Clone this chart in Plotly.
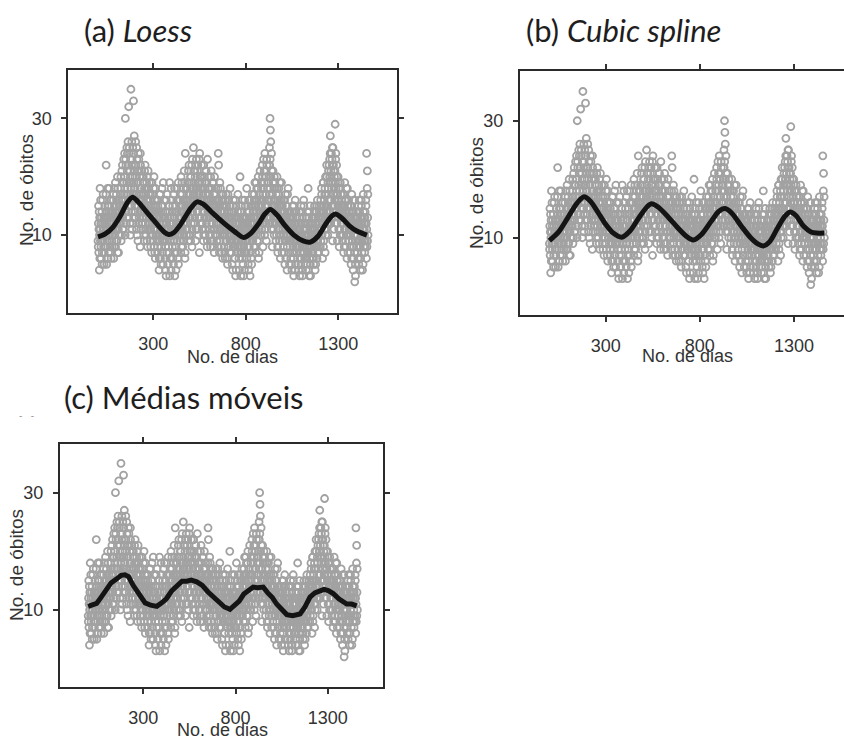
import plotly.graph_objects as go

# ---- data ----
# daily deaths, odd days (1, 3, 5, ..., 1461)
deaths_odd = [
    9, 12, 7, 14, 10, 6, 11, 16, 8, 13, 9, 5, 12, 10, 17, 8, 11, 7, 13, 10,
    12, 8, 22, 14, 9, 11, 18, 6, 13, 10, 15, 9, 12, 7, 14, 11, 16, 10, 8, 13,
    14, 10, 17, 12, 8, 15, 11, 19, 13, 9, 16, 12, 14, 7, 18, 11, 13, 15, 10, 12,
    15, 12, 20, 17, 10, 14, 22, 13, 16, 11, 19, 15, 24, 18, 30, 23, 12, 17, 25, 21,
    18, 26, 14, 32, 16, 24, 12, 20, 17, 35, 15, 22, 11, 19, 25, 16, 33, 13, 27, 21,
    20, 14, 26, 17, 11, 23, 15, 19, 9, 24, 16, 13, 21, 18, 8, 22, 14, 17, 12, 20,
    15, 11, 19, 13, 17, 9, 21, 14, 12, 18, 10, 16, 13, 20, 8, 15, 12, 17, 14, 19,
    13, 9, 17, 11, 15, 7, 19, 12, 10, 14, 18, 8, 13, 11, 16, 6, 12, 15, 10, 14,
    11, 7, 15, 9, 13, 4, 12, 17, 10, 6, 14, 8, 11, 18, 9, 13, 5, 12, 10, 16,
    10, 6, 14, 8, 3, 12, 9, 17, 11, 5, 13, 7, 10, 15, 3, 9, 12, 6, 18, 11,
    12, 8, 15, 10, 5, 13, 9, 18, 11, 7, 14, 4, 12, 16, 9, 11, 6, 19, 10, 13,
    13, 9, 17, 12, 7, 15, 11, 19, 14, 8, 16, 12, 10, 21, 13, 6, 24, 11, 18, 14,
    15, 11, 19, 14, 9, 17, 22, 13, 16, 10, 20, 15, 12, 18, 8, 23, 14, 17, 25, 21,
    16, 12, 21, 15, 9, 18, 23, 14, 17, 11, 22, 16, 13, 19, 7, 24, 15, 20, 12, 18,
    16, 11, 20, 14, 18, 9, 22, 15, 13, 19, 10, 17, 21, 12, 16, 8, 23, 14, 18, 15,
    14, 10, 18, 13, 8, 16, 21, 12, 15, 9, 19, 14, 11, 17, 7, 20, 13, 16, 10, 15,
    13, 9, 16, 11, 14, 24, 22, 12, 7, 15, 10, 18, 13, 8, 16, 11, 14, 6, 17, 12,
    12, 8, 15, 10, 6, 13, 17, 9, 11, 14, 5, 12, 16, 8, 10, 13, 7, 18, 11, 9,
    11, 7, 14, 9, 4, 12, 16, 8, 10, 13, 6, 11, 3, 15, 9, 12, 7, 10, 17, 8,
    10, 6, 13, 8, 20, 11, 3, 14, 9, 7, 12, 16, 5, 10, 8, 13, 4, 11, 15, 9,
    11, 7, 18, 14, 9, 12, 5, 16, 10, 8, 13, 3, 11, 15, 6, 12, 9, 17, 10, 14,
    12, 8, 16, 11, 19, 13, 7, 15, 10, 18, 14, 9, 12, 20, 6, 16, 11, 14, 21, 13,
    15, 10, 19, 13, 22, 16, 8, 18, 12, 21, 14, 24, 11, 17, 20, 9, 23, 15, 18, 13,
    16, 12, 20, 17, 22, 30, 28, 26, 11, 24, 17, 8, 15, 21, 13, 18, 10, 16, 19, 12,
    13, 9, 17, 12, 20, 15, 7, 14, 11, 18, 10, 16, 13, 6, 15, 12, 19, 9, 14, 11,
    12, 8, 16, 10, 14, 5, 13, 17, 9, 11, 15, 4, 12, 10, 18, 7, 13, 11, 9, 14,
    10, 6, 13, 9, 4, 12, 15, 8, 11, 3, 14, 7, 10, 16, 5, 9, 12, 8, 13, 10,
    9, 5, 12, 8, 14, 3, 11, 7, 10, 15, 6, 9, 13, 4, 8, 11, 16, 7, 10, 12,
    9, 6, 12, 4, 11, 8, 14, 10, 18, 7, 13, 3, 9, 15, 5, 10, 12, 8, 11, 6,
    10, 7, 13, 5, 9, 15, 11, 4, 12, 8, 14, 10, 6, 16, 9, 13, 7, 11, 15, 12,
    12, 8, 16, 11, 18, 10, 14, 6, 13, 19, 9, 15, 12, 17, 7, 20, 11, 14, 22, 13,
    14, 10, 18, 21, 13, 16, 23, 20, 27, 12, 19, 24, 15, 22, 9, 25, 17, 21, 11, 20,
    15, 29, 19, 24, 12, 22, 17, 9, 16, 20, 13, 18, 8, 15, 11, 19, 14, 17, 10, 16,
    13, 9, 17, 12, 7, 15, 11, 19, 14, 8, 16, 10, 13, 6, 18, 12, 15, 9, 14, 11,
    11, 7, 15, 10, 5, 13, 17, 9, 12, 6, 14, 8, 11, 16, 2, 10, 3, 13, 9, 12,
    10, 7, 14, 9, 12, 5, 16, 11, 8, 13, 6, 10, 15, 9, 12, 4, 11, 17, 8, 13,
    11, 7, 14, 9, 16, 12, 24, 8, 21, 13, 10,
]
# daily deaths, even days (2, 4, ..., 1460)
deaths_even = [
    8, 15, 11, 4, 13, 18, 9, 12, 6, 10, 14, 7, 16, 11, 9, 13, 5, 12, 15, 10,
    10, 17, 13, 5, 12, 9, 15, 11, 7, 14, 18, 10, 8, 13, 16, 6, 12, 9, 14, 11,
    11, 16, 6, 13, 18, 10, 14, 8, 12, 17, 15, 9, 20, 11, 13, 7, 16, 12, 10, 14,
    13, 18, 9, 16, 21, 14, 11, 19, 15, 23, 12, 17, 20, 10, 16, 22, 14, 19, 13, 24,
    17, 22, 13, 19, 25, 15, 21, 10, 18, 23, 14, 26, 16, 20, 12, 24, 17, 19, 22, 15,
    18, 13, 22, 16, 25, 10, 19, 21, 15, 12, 23, 17, 20, 14, 24, 11, 18, 16, 21, 13,
    16, 12, 20, 14, 10, 18, 15, 22, 11, 17, 13, 19, 9, 16, 14, 21, 12, 18, 15, 11,
    12, 16, 8, 14, 19, 10, 13, 17, 9, 15, 11, 20, 12, 7, 14, 18, 10, 13, 16, 11,
    12, 8, 16, 10, 14, 6, 13, 9, 17, 11, 5, 15, 10, 12, 7, 14, 19, 9, 13, 11,
    9, 13, 4, 11, 16, 7, 12, 10, 14, 5, 8, 15, 11, 19, 6, 13, 10, 4, 12, 16,
    11, 14, 6, 12, 17, 9, 13, 3, 10, 15, 8, 12, 18, 7, 14, 10, 16, 5, 11, 13,
    12, 16, 10, 14, 20, 8, 13, 17, 11, 15, 9, 18, 14, 12, 19, 7, 15, 13, 16, 10,
    14, 18, 12, 16, 21, 10, 15, 19, 13, 17, 9, 20, 16, 22, 11, 14, 18, 12, 19, 16,
    17, 13, 20, 15, 22, 11, 18, 16, 21, 14, 19, 10, 17, 23, 15, 20, 13, 18, 16, 22,
    15, 19, 12, 17, 22, 10, 16, 20, 14, 18, 11, 21, 15, 13, 19, 9, 17, 14, 20, 16,
    13, 17, 11, 15, 20, 9, 14, 18, 12, 16, 8, 19, 13, 15, 11, 17, 14, 10, 18, 12,
    12, 15, 10, 14, 18, 8, 13, 16, 11, 19, 9, 14, 12, 17, 7, 15, 13, 10, 16, 11,
    11, 14, 7, 13, 16, 9, 12, 15, 10, 6, 13, 17, 11, 8, 14, 12, 9, 15, 10, 13,
    10, 13, 5, 12, 15, 8, 11, 14, 9, 6, 12, 16, 10, 4, 13, 11, 8, 14, 9, 12,
    9, 12, 4, 11, 14, 7, 10, 15, 8, 13, 6, 11, 9, 3, 12, 10, 16, 7, 13, 11,
    10, 13, 6, 12, 15, 8, 11, 4, 14, 9, 16, 12, 7, 10, 13, 5, 11, 15, 9, 12,
    13, 10, 17, 12, 15, 8, 14, 19, 11, 16, 9, 13, 18, 12, 15, 7, 17, 14, 10, 16,
    14, 18, 11, 16, 20, 12, 17, 23, 13, 19, 10, 15, 21, 14, 17, 12, 22, 16, 19, 14,
    15, 19, 22, 25, 18, 23, 13, 20, 16, 21, 12, 17, 14, 19, 11, 16, 20, 13, 15, 18,
    12, 16, 10, 14, 18, 8, 13, 17, 11, 15, 9, 19, 12, 14, 10, 16, 13, 7, 15, 12,
    11, 14, 7, 13, 16, 9, 12, 6, 15, 10, 13, 8, 17, 11, 14, 9, 12, 5, 10, 13,
    9, 12, 5, 11, 14, 7, 10, 13, 6, 15, 9, 11, 4, 12, 8, 14, 10, 7, 11, 9,
    8, 11, 4, 10, 13, 6, 9, 12, 5, 14, 8, 10, 3, 12, 7, 9, 15, 11, 6, 10,
    8, 11, 5, 10, 13, 7, 9, 12, 4, 10, 14, 6, 11, 8, 3, 12, 9, 7, 13, 10,
    9, 12, 6, 11, 14, 8, 10, 13, 5, 12, 9, 15, 11, 7, 13, 10, 8, 14, 12, 11,
    11, 14, 9, 13, 17, 10, 15, 12, 19, 8, 14, 16, 11, 18, 13, 10, 17, 15, 20, 12,
    15, 19, 12, 17, 22, 14, 20, 24, 16, 21, 13, 18, 23, 25, 19, 15, 22, 14, 18, 16,
    21, 16, 23, 18, 14, 20, 12, 17, 15, 19, 11, 16, 14, 18, 10, 13, 17, 12, 15, 14,
    12, 15, 10, 14, 17, 8, 13, 16, 11, 9, 14, 18, 12, 10, 15, 7, 13, 16, 11, 12,
    10, 13, 8, 12, 15, 6, 11, 14, 9, 4, 12, 16, 10, 7, 13, 5, 11, 14, 8, 10,
    10, 13, 6, 12, 15, 8, 11, 14, 9, 4, 12, 16, 10, 7, 13, 11, 5, 14, 9, 12,
    10, 13, 8, 12, 15, 6, 11, 18, 9, 17,
]
days_odd = list(range(1, 2 * len(deaths_odd), 2))
days_even = list(range(2, 2 * len(deaths_even) + 1, 2))
days = days_odd + days_even
deaths = deaths_odd + deaths_even

loess_days = [1, 40, 80, 120, 160, 188, 215, 250, 290, 330, 360, 383, 410, 440, 470, 500,
              536, 570, 620, 680, 740, 788, 830, 870, 900, 932, 970, 1010, 1060, 1110,
              1149, 1190, 1230, 1260, 1284, 1320, 1360, 1400, 1455]
loess_vals = [9.7, 10.2, 11.3, 13.2, 15.6, 16.5, 15.8, 14.5, 13.0, 11.5, 10.5, 10.1, 10.4,
              11.5, 13.0, 14.5, 15.7, 15.3, 13.8, 12.1, 10.6, 9.6, 10.4, 12.0, 13.5, 14.4,
              13.4, 11.7, 10.0, 9.0, 8.8, 9.8, 11.8, 13.1, 13.6, 12.9, 11.6, 10.7, 10.0]

spline_days = [1, 50, 100, 150, 185, 220, 260, 300, 340, 385, 430, 480, 520, 544, 580, 630,
               680, 730, 765, 810, 860, 900, 934, 970, 1020, 1070, 1110, 1137, 1170, 1210,
               1250, 1279, 1310, 1350, 1390, 1420, 1461]
spline_vals = [9.5, 11.0, 13.5, 16.0, 17.0, 16.2, 14.3, 12.3, 10.8, 10.1, 11.2, 13.6, 15.3,
               15.8, 15.2, 13.6, 11.8, 10.2, 9.6, 10.6, 12.8, 14.5, 15.0, 14.2, 12.0, 10.0,
               8.9, 8.6, 9.3, 11.5, 13.6, 14.4, 13.8, 12.0, 11.0, 10.8, 10.8]

ma_days = [1, 25, 47, 70, 95, 125, 156, 180, 201, 220, 245, 265, 282, 310, 340, 373, 400,
           425, 455, 481, 510, 535, 560, 590, 620, 650, 680, 710, 740, 770, 795, 820, 845,
           869, 896, 920, 950, 975, 1000, 1023, 1050, 1078, 1110, 1150, 1175, 1204, 1230,
           1258, 1280, 1303, 1330, 1360, 1385, 1403, 1430, 1457]
ma_vals = [10.6, 10.9, 11.1, 12.1, 13.1, 14.6, 15.3, 15.9, 16.0, 15.7, 14.2, 13.3, 12.3,
           11.2, 10.8, 10.6, 11.2, 11.9, 13.3, 14.2, 14.9, 14.9, 15.1, 14.8, 14.2, 13.1,
           12.3, 11.5, 10.5, 10.1, 10.7, 11.5, 12.7, 13.3, 13.9, 13.8, 13.9, 12.9, 12.1,
           11.0, 10.1, 9.2, 9.0, 9.3, 10.4, 12.2, 12.9, 13.2, 13.5, 13.3, 12.8, 11.9, 11.5,
           11.0, 11.0, 10.7]

x_ticks = [300, 800, 1300]
y_ticks = [10, 30]
titles = ["(a) <i>Loess</i>", "(b) <i>Cubic spline</i>", "(c) Médias móveis"]
x_title = "No. de dias"
y_title = "No. de óbitos"

# ---- layout geometry (pixels) ----
W, H = 844, 742
panels = [
    dict(l=68.3, r=396.7, t=70, b=313.3, xr=[-159.5, 1615.7], yr=[-3.4, 38.3],
         curve=(loess_days, loess_vals, "spline"), ymirror="allticks",
         title_xy=(82, 30), xt_xy=(232, 357), yt_xy=(26, 190)),
    dict(l=520, r=844, t=71, b=315, xr=[-155, 1565.5], yr=[-3.2, 38.5],
         curve=(spline_days, spline_vals, "spline"), ymirror=False,
         title_xy=(524, 30), xt_xy=(687, 356), yt_xy=(477, 193)),
    dict(l=60, r=383.3, t=444, b=687.3, xr=[-151.7, 1601.5], yr=[-3.2, 38.3],
         curve=(ma_days, ma_vals, "linear"), ymirror="allticks",
         title_xy=(62, 397), xt_xy=(222, 730), yt_xy=(16, 565)),
]

fig = go.Figure()
layout = dict(width=W, height=H, margin=dict(l=0, r=0, t=0, b=0),
              paper_bgcolor="white", plot_bgcolor="white", showlegend=False)
annotations = []
tick_font = dict(family="Liberation Sans, Arial, sans-serif", size=18, color="#333333")

for i, p in enumerate(panels):
    n = "" if i == 0 else str(i + 1)
    fig.add_trace(go.Scatter(
        x=days, y=deaths, mode="markers", xaxis="x" + n, yaxis="y" + n,
        marker=dict(symbol="circle-open", size=7, color="#a2a2a2",
                    line=dict(width=1.8, color="#a2a2a2")),
        hoverinfo="skip"))
    cd, cv, shape = p["curve"]
    fig.add_trace(go.Scatter(
        x=cd, y=cv, mode="lines", xaxis="x" + n, yaxis="y" + n,
        line=dict(color="#141414", width=5, shape=shape, smoothing=0.8 if shape == "spline" else None),
        hoverinfo="skip"))
    layout["xaxis" + n] = dict(
        domain=[p["l"] / W, min(p["r"] / W, 1.0)], range=p["xr"], anchor="y" + n,
        tickvals=x_ticks, ticks="outside", ticklen=5, tickwidth=1.5, tickcolor="#333",
        showline=True, linecolor="#2a2a2a", linewidth=2, mirror="allticks",
        showgrid=False, zeroline=False, tickfont=tick_font, ticklabelstandoff=8)
    layout["yaxis" + n] = dict(
        domain=[1 - p["b"] / H, 1 - p["t"] / H], range=p["yr"], anchor="x" + n,
        tickvals=y_ticks, ticks="outside", ticklen=5, tickwidth=1.5, tickcolor="#333",
        showline=True, linecolor="#2a2a2a", linewidth=2, mirror=p["ymirror"],
        showgrid=False, zeroline=False, tickfont=tick_font, ticklabelstandoff=6)
    tx, ty = p["title_xy"]
    annotations.append(dict(text=titles[i], x=tx / W, y=1 - ty / H, xref="paper", yref="paper",
                            xanchor="left", yanchor="middle", showarrow=False,
                            font=dict(family="Lato, Open Sans, sans-serif", size=31, color="#1e1e1e")))
    xx, xy = p["xt_xy"]
    annotations.append(dict(text=x_title, x=xx / W, y=1 - xy / H, xref="paper", yref="paper",
                            xanchor="center", yanchor="middle", showarrow=False,
                            font=dict(family="Liberation Sans, Arial, sans-serif", size=18, color="#333333")))
    yx, yy = p["yt_xy"]
    annotations.append(dict(text=y_title, x=yx / W, y=1 - yy / H, xref="paper", yref="paper",
                            xanchor="center", yanchor="middle", showarrow=False, textangle=-90,
                            font=dict(family="Liberation Sans, Arial, sans-serif", size=19, color="#333333")))

annotations.append(dict(text="-   -", x=27 / W, y=1 - 415 / H, xref="paper", yref="paper",
                        xanchor="center", yanchor="middle", showarrow=False,
                        font=dict(family="Liberation Sans, Arial, sans-serif", size=10, color="#999999")))
layout["annotations"] = annotations
fig.update_layout(**layout)
fig.write_html("out.html")
